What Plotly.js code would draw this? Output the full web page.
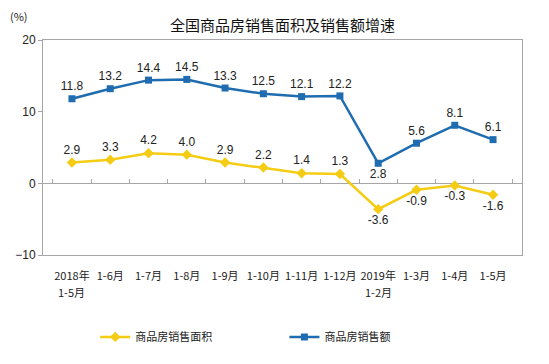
<!DOCTYPE html>
<html>
<head>
<meta charset="utf-8">
<script src="https://cdn.plot.ly/plotly-3.0.1.min.js"></script>
<style>html,body{margin:0;padding:0;background:#fff;}#chart{width:549px;height:364px;}</style>
</head>
<body>
<div id="chart"></div>
<script>
const categories = ["2018年1-5月","1-6月","1-7月","1-8月","1-9月","1-10月","1-11月","1-12月","2019年1-2月","1-3月","1-4月","1-5月"];
const tickLine1 = ["2018年","1-6月","1-7月","1-8月","1-9月","1-10月","1-11月","1-12月","2019年","1-3月","1-4月","1-5月"];
const tickLine2 = ["1-5月","","","","","","","","1-2月","","",""];
const areaName = "商品房销售面积";
const salesName = "商品房销售额";
const areaValues = [2.9, 3.3, 4.2, 4.0, 2.9, 2.2, 1.4, 1.3, -3.6, -0.9, -0.3, -1.6];
const salesValues = [11.8, 13.2, 14.4, 14.5, 13.3, 12.5, 12.1, 12.2, 2.8, 5.6, 8.1, 6.1];

const fmt = v => v.toFixed(1);
const areaPos = areaValues.map(v => v < 0 ? "bottom center" : "top center");
const salesPos = salesValues.map((v, i) => i === 8 ? "bottom center" : "top center");

const labelFont = {family: "Liberation Sans, Arial, sans-serif", size: 12, color: "#222"};
const tickFont = {family: "Noto Sans CJK SC", size: 11, color: "#222"};

const traces = [
  {
    x: categories, y: areaValues, name: areaName, type: "scatter", mode: "lines+markers+text",
    line: {color: "#F5CC14", width: 2.5},
    marker: {symbol: "diamond", size: 8, color: "#F5CC14"},
    text: areaValues.map(fmt), textposition: areaPos, textfont: labelFont,
    cliponaxis: false, legend: "legend"
  },
  {
    x: categories, y: salesValues, name: salesName, type: "scatter", mode: "lines+markers+text",
    line: {color: "#1F6CB0", width: 2.5},
    marker: {symbol: "square", size: 7, color: "#1F6CB0"},
    text: salesValues.map(fmt), textposition: salesPos, textfont: labelFont,
    cliponaxis: false, legend: "legend2"
  },
  {x: categories, y: salesValues, xaxis: "x2", type: "scatter", mode: "none", showlegend: false, hoverinfo: "skip"}
];

const subAnnotations = tickLine2.map((t, i) => ({text: t, i})).filter(o => o.text).map(o => ({
  text: o.text, xref: "x", yref: "paper", x: categories[o.i], y: -0.172,
  xanchor: "center", yanchor: "middle", showarrow: false, font: tickFont
}));

const legendFont = {family: "Noto Sans CJK SC", size: 11, color: "#222"};

const layout = {
  width: 549, height: 364,
  margin: {l: 43, r: 27, t: 40, b: 109},
  paper_bgcolor: "#fff", plot_bgcolor: "#fff",
  showlegend: true,
  title: {text: "全国商品房销售面积及销售额增速", xref: "paper", x: 0.5, xanchor: "center", y: 0.928, yanchor: "middle",
          font: {family: "Noto Sans CJK SC", size: 15, color: "#111"}},
  xaxis: {
    type: "category", showgrid: false, zeroline: false,
    showline: true, linecolor: "#A6A6A6", linewidth: 1, mirror: true,
    ticks: "", tickfont: tickFont, tickangle: 0,
    tickvals: categories, ticktext: tickLine1, ticklabelstandoff: 11
  },
  xaxis2: {
    type: "category", matches: "x", overlaying: "x", anchor: "free", position: 1/3,
    showgrid: false, zeroline: false, showline: false, showticklabels: false,
    ticks: "inside", tickson: "boundaries", ticklen: 4, tickcolor: "#A6A6A6"
  },
  yaxis: {
    range: [-10, 20], dtick: 10, showgrid: false,
    zeroline: true, zerolinecolor: "#A6A6A6", zerolinewidth: 1,
    showline: true, linecolor: "#A6A6A6", linewidth: 1, mirror: true,
    ticks: "outside", ticklen: 4, tickcolor: "#A6A6A6",
    tickfont: {family: "Liberation Sans, Arial, sans-serif", size: 12, color: "#222"}
  },
  legend: {
    orientation: "h", x: 0.109, xanchor: "left", y: -0.381, yanchor: "middle",
    font: legendFont, bgcolor: "rgba(0,0,0,0)"
  },
  legend2: {
    orientation: "h", x: 0.504, xanchor: "left", y: -0.381, yanchor: "middle",
    font: legendFont, bgcolor: "rgba(0,0,0,0)"
  },
  annotations: [
    {text: "(%)", xref: "paper", yref: "paper", x: -0.05, y: 1.11, xanchor: "center", yanchor: "middle",
     showarrow: false, font: {family: "Noto Sans CJK SC", size: 11, color: "#222"}}
  ].concat(subAnnotations)
};

Plotly.newPlot("chart", traces, layout, {displayModeBar: false, staticPlot: true});
</script>
</body>
</html>
